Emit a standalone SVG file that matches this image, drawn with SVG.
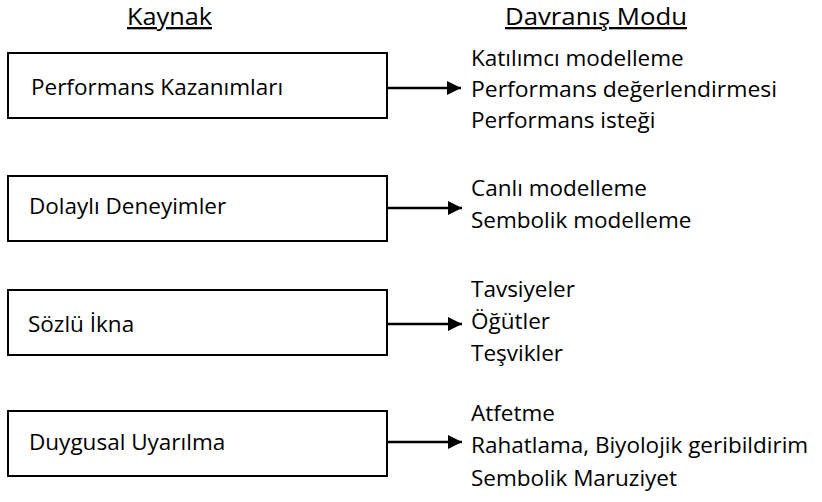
<svg xmlns="http://www.w3.org/2000/svg" width="822" height="502" viewBox="0 0 822 502">
<style>
.hdr{font-family:"Open Sans","Liberation Sans",sans-serif;font-size:23px;fill:#000;text-decoration:underline}
.t{font-family:"Open Sans","Liberation Sans",sans-serif;font-size:22.5px;fill:#000}
.box{fill:#fff;stroke:#000;stroke-width:2}
.con{stroke:#000;stroke-width:2.5;fill:none}
</style>
<defs>
<marker id="ah" markerUnits="userSpaceOnUse" markerWidth="15" markerHeight="15" refX="14" refY="7" orient="auto">
<path d="M0,0 L14,7 L0,14 z" fill="#000"/>
</marker>
</defs>
<rect width="822" height="502" fill="#fff"/>
<g id="headers">
<text class="hdr" x="127" y="25" textLength="85" lengthAdjust="spacingAndGlyphs">Kaynak</text>
<text class="hdr" x="505" y="25" textLength="182" lengthAdjust="spacingAndGlyphs">Davranış Modu</text>
</g>
<g id="node1">
<rect class="box" x="8" y="53" width="379" height="65"/>
<text class="t" x="31" y="95">Performans Kazanımları</text>
</g>
<g id="modes1">
<text class="t" x="471" y="66">Katılımcı modelleme</text>
<text class="t" x="471" y="97" textLength="306" lengthAdjust="spacingAndGlyphs">Performans değerlendirmesi</text>
<text class="t" x="471" y="128">Performans isteği</text>
</g>
<g id="node2">
<rect class="box" x="8" y="176" width="379" height="65"/>
<text class="t" x="29" y="214">Dolaylı Deneyimler</text>
</g>
<g id="modes2">
<text class="t" x="471" y="196">Canlı modelleme</text>
<text class="t" x="471" y="228">Sembolik modelleme</text>
</g>
<g id="node3">
<rect class="box" x="8" y="290" width="379" height="65"/>
<text class="t" x="28" y="332">Sözlü İkna</text>
</g>
<g id="modes3">
<text class="t" x="471" y="297">Tavsiyeler</text>
<text class="t" x="471" y="329">Öğütler</text>
<text class="t" x="471" y="361">Teşvikler</text>
</g>
<g id="node4">
<rect class="box" x="8" y="411" width="379" height="65"/>
<text class="t" x="29" y="450">Duygusal Uyarılma</text>
</g>
<g id="modes4">
<text class="t" x="471" y="421">Atfetme</text>
<text class="t" x="471" y="453">Rahatlama, Biyolojik geribildirim</text>
<text class="t" x="471" y="486">Sembolik Maruziyet</text>
</g>
<g id="connectors">
<line class="con" x1="387" y1="88" x2="461" y2="88" marker-end="url(#ah)"/>
<line class="con" x1="387" y1="208" x2="462" y2="208" marker-end="url(#ah)"/>
<line class="con" x1="387" y1="324" x2="462" y2="324" marker-end="url(#ah)"/>
<line class="con" x1="387" y1="442" x2="462" y2="442" marker-end="url(#ah)"/>
</g>
</svg>
